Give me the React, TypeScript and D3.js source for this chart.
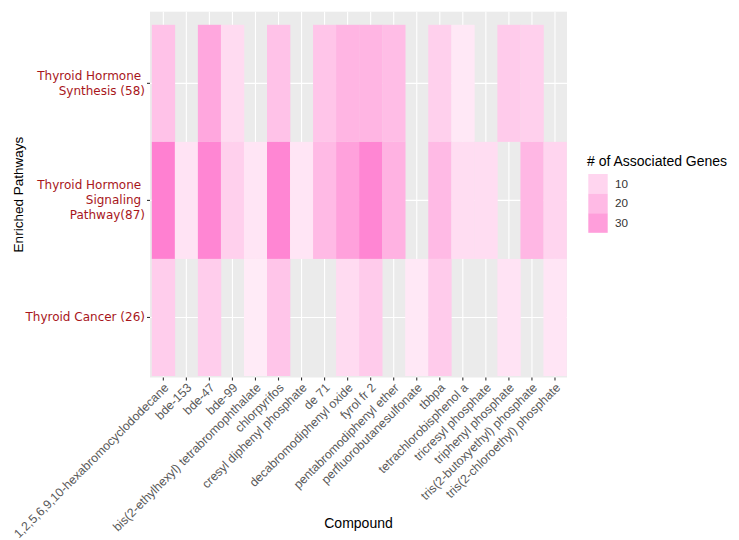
import React from "react";
import * as d3 from "d3";

const compounds = [
  "1,2,5,6,9,10-hexabromocyclododecane",
  "bde-153",
  "bde-47",
  "bde-99",
  "bis(2-ethylhexyl) tetrabromophthalate",
  "chlorpyrifos",
  "cresyl diphenyl phosphate",
  "de 71",
  "decabromodiphenyl oxide",
  "fyrol fr 2",
  "pentabromodiphenyl ether",
  "perfluorobutanesulfonate",
  "tbbpa",
  "tetrachlorobisphenol a",
  "tricresyl phosphate",
  "triphenyl phosphate",
  "tris(2-butoxyethyl) phosphate",
  "tris(2-chloroethyl) phosphate",
];

const pathways = [
  "Thyroid Hormone Synthesis (58)",
  "Thyroid Hormone Signaling Pathway(87)",
  "Thyroid Cancer (26)",
];

const pathwayLabelLines = [
  ["Thyroid Hormone ", "Synthesis (58)"],
  ["Thyroid Hormone ", "Signaling ", "Pathway(87)"],
  ["Thyroid Cancer (26)"],
];

// null = no association
const synthesisGenes = [17, null, 27, 8, null, 17, null, 16, 22, 22, 19, null, 12, 3, null, 14, 12, null];
const signalingGenes = [40, 5, 38, 12, 4, 38, 4, 20, 29, 38, 23, null, 20, 7, 7, null, 21, 10];
const cancerGenes = [13, null, 13, null, 2, 16, null, null, 8, 14, null, 3, 14, null, null, 5, null, 4];

const legendBreaks = [10, 20, 30];

const seriesByPathway = [synthesisGenes, signalingGenes, cancerGenes];

export default function App() {
  const W = 739;
  const H = 540;
  const panel = { x0: 150, x1: 567, y0: 11.7, y1: 377.5 };

  const x = d3.scaleBand<string>().domain(compounds).range([151.8, 566.5]).padding(0);
  const y = d3.scaleBand<string>().domain(pathways).range([24.8, 376]).padding(0);
  const color = d3
    .scaleLinear<string>()
    .domain([0, 45])
    .range(["#FFF0F9", "#FF6FCC"])
    .interpolate(d3.interpolateLab);

  const cells: { c: string; p: string; v: number }[] = [];
  pathways.forEach((p, i) => {
    seriesByPathway[i].forEach((v, j) => {
      if (v != null) cells.push({ c: compounds[j], p, v });
    });
  });

  const sans = "'Liberation Sans', Arial, sans-serif";
  const dejavu = "'DejaVu Sans', sans-serif";
  const keySize = 19.6;

  return (
    <svg width={W} height={H} style={{ display: "block", position: "absolute", left: 0, top: 0 }}>
      <rect width={W} height={H} fill="#ffffff" />
      <rect x={panel.x0} y={panel.y0} width={panel.x1 - panel.x0} height={panel.y1 - panel.y0} fill="#EBEBEB" />
      {compounds.map((c) => (
        <line key={"gx" + c} x1={x(c)! + x.bandwidth() / 2} x2={x(c)! + x.bandwidth() / 2} y1={panel.y0} y2={panel.y1} stroke="#fff" strokeWidth={1.1} />
      ))}
      {pathways.map((p) => (
        <line key={"gy" + p} x1={panel.x0} x2={panel.x1} y1={y(p)! + y.bandwidth() / 2} y2={y(p)! + y.bandwidth() / 2} stroke="#fff" strokeWidth={1.1} />
      ))}
      {cells.map((d) => (
        <rect key={d.c + d.p} x={x(d.c)!} y={y(d.p)!} width={x.bandwidth() + 0.3} height={y.bandwidth()} fill={color(d.v)} />
      ))}
      {/* y axis */}
      {pathways.map((p, i) => {
        const cy = y(p)! + y.bandwidth() / 2;
        const lines = pathwayLabelLines[i];
        const n = lines.length;
        return (
          <g key={"yl" + p}>
            <line x1={147} x2={150} y1={cy} y2={cy} stroke="#333" strokeWidth={1.1} />
            <text
              x={145}
              textAnchor="end"
              fill="#A8161B"
              fontFamily={dejavu}
              fontSize={12}
              style={{ whiteSpace: "pre" }}
            >
              {lines.map((l, k) => (
                <tspan key={k} x={145} y={cy + 4 + (k - (n - 1) / 2) * 15}>
                  {l}
                </tspan>
              ))}
            </text>
          </g>
        );
      })}
      <text
        transform={`translate(23, ${(panel.y0 + panel.y1) / 2}) rotate(-90)`}
        textAnchor="middle"
        fontFamily={sans}
        fontSize={13.5}
        fill="#000"
      >
        Enriched Pathways
      </text>
      {/* x axis */}
      {compounds.map((c) => {
        const cx = x(c)! + x.bandwidth() / 2;
        return (
          <g key={"xl" + c}>
            <line x1={cx} x2={cx} y1={panel.y1} y2={panel.y1 + 3} stroke="#333" strokeWidth={1.1} />
            <text
              transform={`translate(${cx + 6}, ${panel.y1 + 11}) rotate(-45)`}
              textAnchor="end"
              fontFamily={sans}
              fontSize={12.3}
              fill="#595959"
            >
              {c}
            </text>
          </g>
        );
      })}
      <text x={(panel.x0 + panel.x1) / 2} y={528} textAnchor="middle" fontFamily={sans} fontSize={14} fill="#000">
        Compound
      </text>
      {/* legend */}
      <text x={587} y={166} fontFamily={sans} fontSize={14} fill="#000">
        # of Associated Genes
      </text>
      {legendBreaks.map((b, i) => (
        <g key={"lg" + b}>
          <rect x={588.3} y={174 + i * keySize} width={19.4} height={keySize} fill={color(b)} />
          <text x={615} y={174 + i * keySize + keySize / 2} dy="0.35em" fontFamily={sans} fontSize={11.7} fill="#333">
            {b}
          </text>
        </g>
      ))}
    </svg>
  );
}
